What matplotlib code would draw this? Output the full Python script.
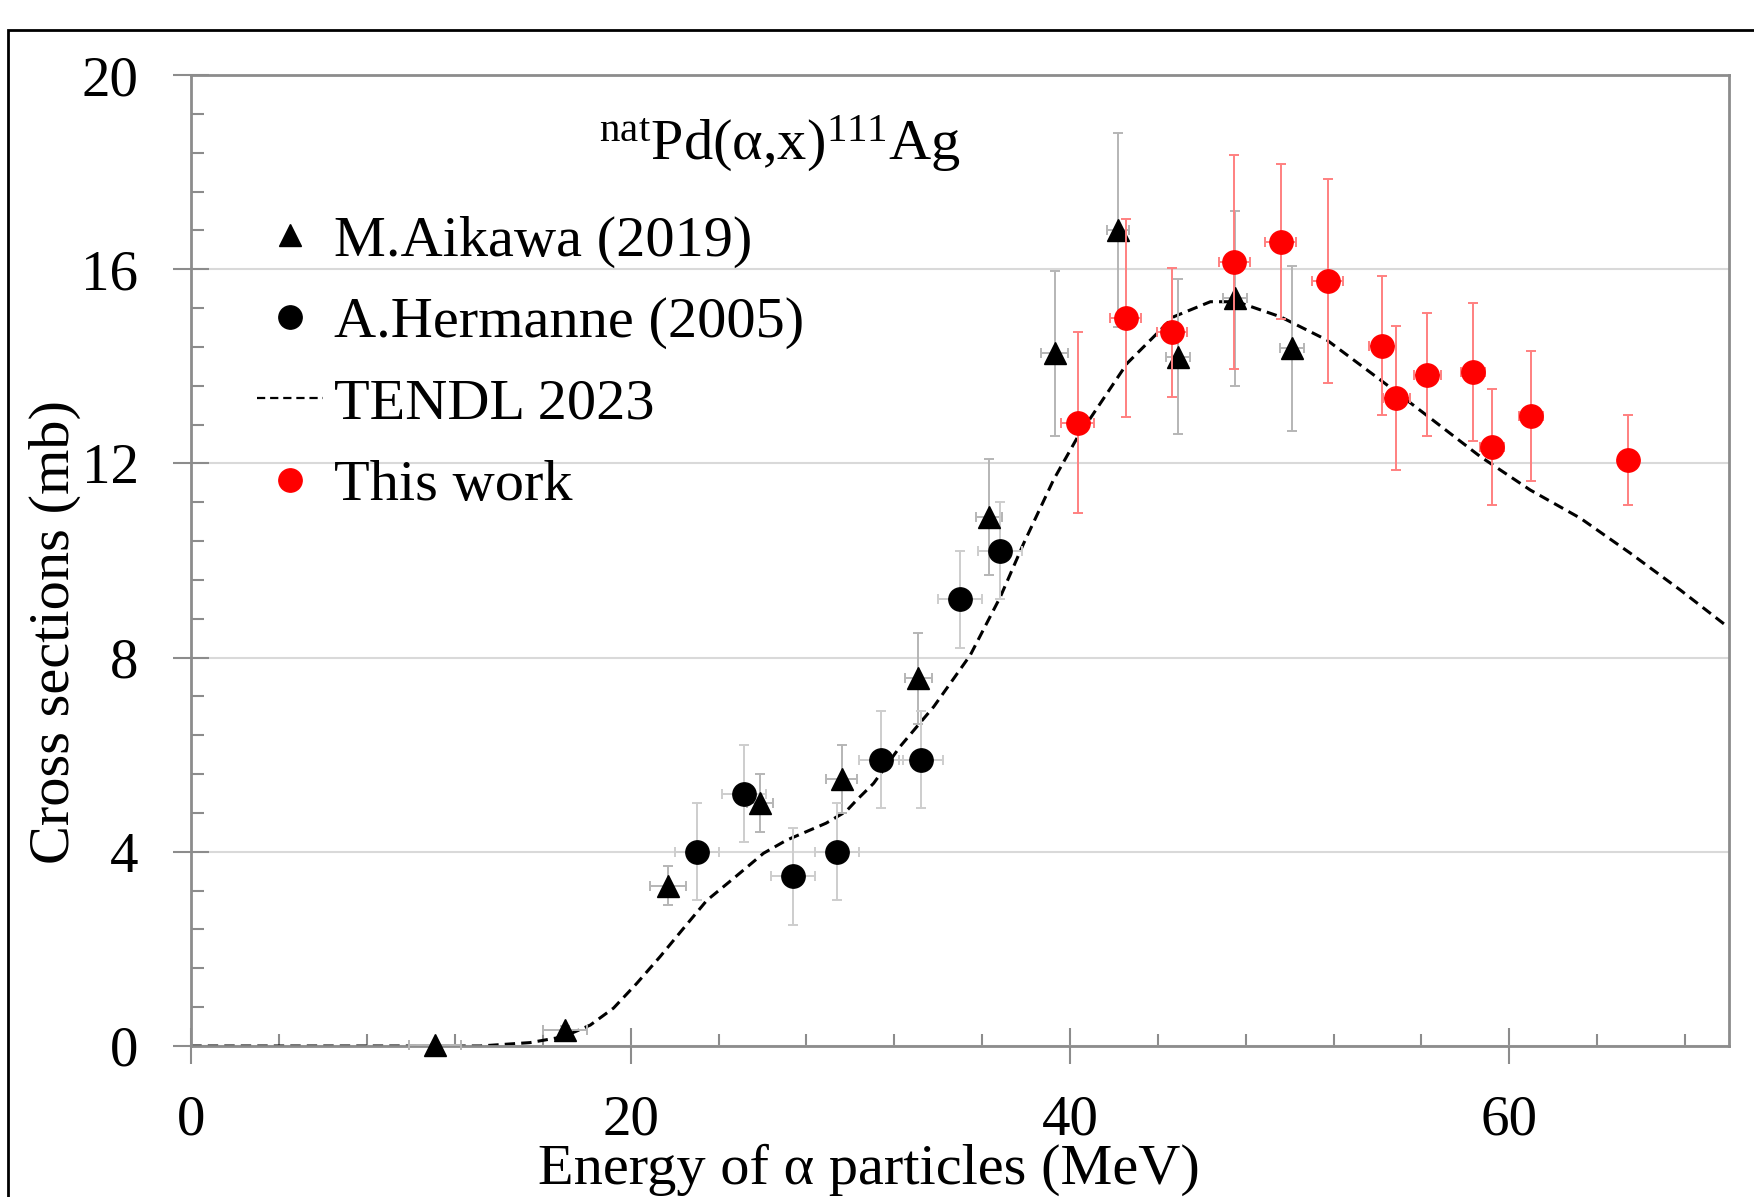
import matplotlib
matplotlib.use('Agg')
import matplotlib.pyplot as plt
from matplotlib.lines import Line2D
from matplotlib.patches import Rectangle
from matplotlib.ticker import MultipleLocator

plt.rcParams['font.family'] = ['Liberation Serif', 'DejaVu Serif']
plt.rcParams['mathtext.fontset'] = 'custom'
plt.rcParams['mathtext.rm'] = 'Liberation Serif'
plt.rcParams['mathtext.it'] = 'Liberation Serif:italic'

# M.Aikawa (2019)
aik_E = [11.1, 17.0, 21.7, 25.9, 29.6, 33.1, 36.3, 39.3, 42.2, 44.9, 47.5, 50.1]
aik_s = [0.02, 0.32, 3.3, 5.0, 5.49, 7.57, 10.9, 14.27, 16.8, 14.2, 15.4, 14.37]
aik_ds = [0.02, 0.1, 0.4, 0.6, 0.7, 0.93, 1.2, 1.7, 2.0, 1.6, 1.8, 1.7]
aik_dE = [1.2, 1.0, 0.8, 0.6, 0.7, 0.6, 0.6, 0.6, 0.5, 0.55, 0.55, 0.55]

# A.Hermanne (2005)
her_E = [23.0, 25.15, 27.4, 29.4, 31.4, 33.2, 35.0, 36.8]
her_s = [4.0, 5.2, 3.5, 4.0, 5.9, 5.9, 9.2, 10.2]
her_ds = [1.0, 1.0, 1.0, 1.0, 1.0, 1.0, 1.0, 1.0]
her_dE = [1.0, 1.0, 1.0, 1.0, 1.0, 1.0, 1.0, 1.0]

# This work
tw_E = [40.36, 42.54, 44.65, 47.48, 49.6, 51.73, 54.22, 54.86, 56.27, 58.34, 59.21, 60.98, 65.4]
tw_s = [12.84, 15.0, 14.7, 16.15, 16.57, 15.76, 14.42, 13.34, 13.83, 13.88, 12.34, 12.97, 12.07]
tw_ds = [1.86, 2.04, 1.33, 2.2, 1.59, 2.1, 1.43, 1.48, 1.27, 1.42, 1.2, 1.34, 0.93]
tw_dE = [0.75, 0.7, 0.7, 0.7, 0.7, 0.7, 0.6, 0.6, 0.6, 0.55, 0.55, 0.55, 0.4]

# TENDL 2023
tendl_E = [0, 10, 13.15, 15.42, 16.94, 18.16, 19.22, 20.28, 21.34, 22.4, 23.47, 24.68,
           26.05, 27.1, 28.9, 29.8, 30.3, 31.06, 32.27, 33.8, 35.46, 36.83, 37.89, 39.25,
           40.32, 42.6, 44.72, 46.39, 47.6, 49.58, 51.7, 54.13, 56.41, 58.68, 60.96,
           63.24, 65.51, 67.79, 69.84, 70.0]
tendl_s = [0, 0, 0, 0.07, 0.19, 0.43, 0.78, 1.29, 1.84, 2.42, 3.0, 3.45,
           3.97, 4.24, 4.59, 4.83, 5.07, 5.41, 6.17, 6.99, 8.05, 9.25, 10.35, 11.66,
           12.52, 14.06, 15.02, 15.33, 15.33, 15.02, 14.54, 13.72, 12.93, 12.14, 11.45,
           10.87, 10.15, 9.39, 8.67, 8.62]

labels = ['M.Aikawa (2019)', 'A.Hermanne (2005)', 'TENDL 2023', 'This work']

fig = plt.figure(figsize=(17.54, 11.97), dpi=100)
ax = fig.add_axes([0.10906, 0.12615, 0.87668, 0.81119])

spine_col = '#8c8c8c'
ax.set_xlim(0, 70)
ax.set_ylim(0, 20)
ax.xaxis.set_major_locator(MultipleLocator(20))
ax.xaxis.set_minor_locator(MultipleLocator(4))
ax.yaxis.set_major_locator(MultipleLocator(4))
ax.yaxis.set_minor_locator(MultipleLocator(0.8))
ax.tick_params(which='major', direction='inout', length=26, width=1.5, color=spine_col,
               labelsize=41, labelcolor='black')
ax.tick_params(which='minor', direction='in', length=9, width=1.5, color=spine_col)
ax.tick_params(axis='x', which='major', pad=22)
ax.tick_params(axis='y', which='major', pad=25)
for sp in ax.spines.values():
    sp.set_color(spine_col)
    sp.set_linewidth(2)
ax.grid(axis='y', which='major', color='#d9d9d9', lw=1.5)
ax.set_axisbelow(True)

# TENDL curve
ax.plot(tendl_E, tendl_s, color='black', lw=2.2, ls=(0, (3.4, 2.0)), zorder=2)

# Aikawa
c1 = ax.errorbar(aik_E, aik_s, yerr=aik_ds, xerr=aik_dE, fmt='^', ms=16.5, color='black',
                 ecolor='#b5b5b5', elinewidth=1.4, capsize=3.8, capthick=1.4, zorder=3)
# Hermanne
c2 = ax.errorbar(her_E, her_s, yerr=her_ds, xerr=her_dE, fmt='o', ms=16.8, color='black',
                 ecolor='#cdcdcd', elinewidth=1.4, capsize=3.8, capthick=1.4, zorder=3)
# This work
c3 = ax.errorbar(tw_E, tw_s, yerr=tw_ds, xerr=tw_dE, fmt='o', ms=16.8, color='red',
                 ecolor='#ff8080', elinewidth=1.4, capsize=3.8, capthick=1.4, zorder=4)
for c in (c1, c2, c3):
    for art in c.get_children():
        art.set_clip_on(False)

# title inside the plot
ax.text(0.383, 0.9125, r'$^{\mathrm{nat}}$Pd(α,x)$^{111}$Ag', transform=ax.transAxes,
        ha='center', va='baseline', fontsize=42)

# legend with plain marker handles
handles = [
    Line2D([], [], ls='none', marker='^', ms=16.5, color='black'),
    Line2D([], [], ls='none', marker='o', ms=16.8, color='black'),
    Line2D([], [], ls=(0, (3.7, 2.2)), lw=1.6, color='black'),
    Line2D([], [], ls='none', marker='o', ms=16.8, color='red'),
]
ax.legend(handles, labels, loc='upper left', bbox_to_anchor=(0.0425, 0.856),
          frameon=False, fontsize=42, handlelength=1.14, handletextpad=0.19,
          labelspacing=0.49, borderpad=0, borderaxespad=0, numpoints=1)

ax.set_xlabel('Energy of α particles (MeV)', fontsize=42)
ax.xaxis.set_label_coords(0.4405, -0.101)
ax.set_ylabel('Cross sections (mb)', fontsize=42)
ax.yaxis.set_label_coords(-0.072, 0.4264)

# outer frame of the figure
fig.patches.append(Rectangle((0.0044, -0.05), 1.2, 0.975 + 0.05, transform=fig.transFigure,
                             fill=False, edgecolor='black', lw=2))

fig.savefig('out.png', dpi=100)
